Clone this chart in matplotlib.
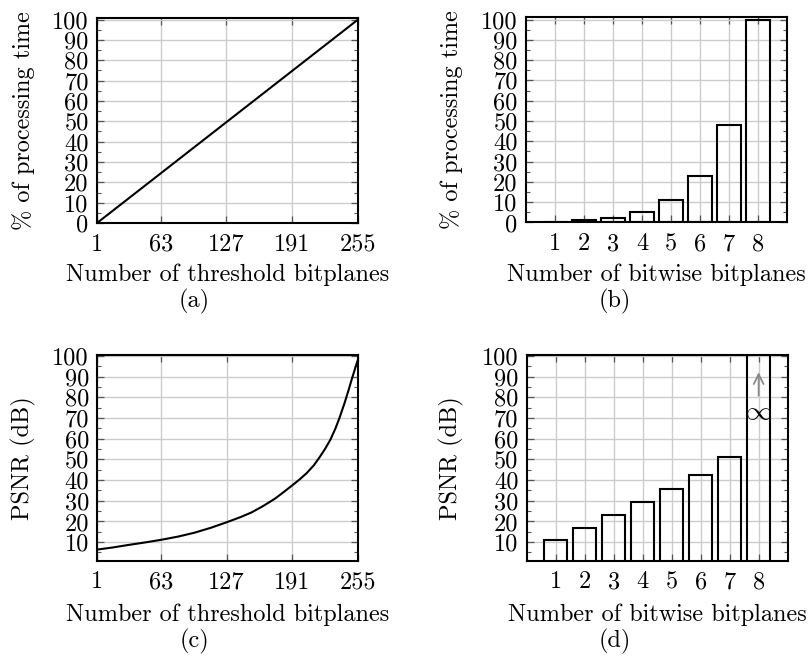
import matplotlib
matplotlib.use('Agg')
import matplotlib.pyplot as plt
import numpy as np

plt.rcParams['font.family'] = 'cmr10'
plt.rcParams['mathtext.fontset'] = 'cm'
plt.rcParams['axes.unicode_minus'] = False
plt.rcParams['font.size'] = 17.5

# (a) processing time vs number of threshold bitplanes
thr_time_x = [1, 255]
thr_time_pct = [0, 100]

# (b) processing time vs number of bitwise bitplanes
bitplanes = [1, 2, 3, 4, 5, 6, 7, 8]
bit_time_pct = [0.4, 1.0, 2.4, 5.2, 11, 23, 48, 100]

# (c) PSNR vs number of threshold bitplanes
thr_psnr_x = [1, 16, 31, 47, 63, 80, 96, 112, 127, 140, 151, 162, 174, 182,
              191, 198, 205, 212, 218, 223, 228, 233, 237, 242, 246, 249, 252, 255]
thr_psnr_db = [6.4, 7.4, 8.6, 9.8, 11.1, 12.7, 14.6, 17.0, 19.6, 22.0, 24.3, 27.3,
               31.0, 34.0, 37.5, 40.3, 43.4, 47.2, 51.4, 55.2, 59.5, 65.0, 70.2,
               77.5, 83.9, 89.0, 93.8, 98.5]

# (d) PSNR vs number of bitwise bitplanes (8 bitplanes -> lossless)
bit_psnr_db = [10.8, 17.0, 23.1, 29.2, 35.6, 42.7, 51.0, np.inf]

thr_ticks = [1, 63, 127, 191, 255]

GRID = '#cccccc'
TICK = '#555555'


def style(ax, ymin, ymax, yticks):
    ax.set_ylim(ymin, ymax)
    ax.set_yticks(yticks)
    ax.set_yticks(np.arange(5, 100, 10), minor=True)
    ax.grid(True, which='major', color=GRID, lw=1.0)
    ax.set_axisbelow(True)
    ax.tick_params(which='both', direction='in', top=True, right=True, color=TICK)
    ax.tick_params(which='major', length=5, width=0.9)
    ax.tick_params(which='minor', length=3, width=0.8)
    ax.tick_params(axis='y', pad=6)
    ax.tick_params(axis='x', pad=7.5)
    ax.tick_params(axis='x', which='minor', bottom=False, top=False)
    for s in ax.spines.values():
        s.set_linewidth(1.5)
        s.set_zorder(5)


fig = plt.figure(figsize=(8.11, 6.62), dpi=100)

ax_a = fig.add_axes([0.1196, 0.6631, 0.3218, 0.3104])
ax_b = fig.add_axes([0.6486, 0.6639, 0.3218, 0.3097])
ax_c = fig.add_axes([0.1200, 0.1530, 0.3215, 0.3107])
ax_d = fig.add_axes([0.6494, 0.1530, 0.3218, 0.3107])

# (a)
ax_a.plot(thr_time_x, thr_time_pct, color='black', lw=1.5)
ax_a.set_xlim(1, 255)
ax_a.set_xticks(thr_ticks)
style(ax_a, 0, 101, np.arange(0, 101, 10))
ax_a.set_xlabel('Number of threshold bitplanes', va='center')
ax_a.set_ylabel('% of processing time', va='center')

# (b)
ax_b.bar(bitplanes, bit_time_pct, width=0.8, facecolor='none', edgecolor='black', lw=1.5)
ax_b.set_xlim(0, 9)
ax_b.set_xticks(bitplanes)
style(ax_b, 0, 101, np.arange(0, 101, 10))
ax_b.set_xlabel('Number of bitwise bitplanes', va='center')
ax_b.set_ylabel('% of processing time', va='center')

# (c)
ax_c.plot(thr_psnr_x, thr_psnr_db, color='black', lw=1.5, solid_joinstyle='round')
ax_c.set_xlim(1, 255)
ax_c.set_xticks(thr_ticks)
style(ax_c, 1, 100.5, np.arange(10, 101, 10))
ax_c.set_xlabel('Number of threshold bitplanes', va='center')
ax_c.set_ylabel('PSNR (dB)', va='center')

# (d)
d_top = 100.5
d_heights = [v if np.isfinite(v) else 2 * d_top for v in bit_psnr_db]
ax_d.bar(bitplanes, d_heights, width=0.8, facecolor='none', edgecolor='black', lw=1.5)
ax_d.set_xlim(0, 9)
ax_d.set_xticks(bitplanes)
style(ax_d, 1, d_top, np.arange(10, 101, 10))
ax_d.set_xlabel('Number of bitwise bitplanes', va='center')
ax_d.set_ylabel('PSNR (dB)', va='center')
for x, v in zip(bitplanes, bit_psnr_db):
    if not np.isfinite(v):
        ax_d.annotate('', xy=(x, 93.5), xytext=(x, 79.5),
                      arrowprops=dict(arrowstyle='->', color='#888888', lw=1.3))
        ax_d.text(x, 72.8, r'$\infty$', ha='center', va='center', fontsize=19)

# label positions
ax_a.xaxis.set_label_coords(0.5, -0.253)
ax_b.xaxis.set_label_coords(0.5, -0.255)
ax_c.xaxis.set_label_coords(0.5, -0.262)
ax_d.xaxis.set_label_coords(0.5, -0.262)
ax_a.yaxis.set_label_coords(-0.280, 0.5)
ax_b.yaxis.set_label_coords(-0.287, 0.5)
ax_c.yaxis.set_label_coords(-0.285, 0.5)
ax_d.yaxis.set_label_coords(-0.287, 0.5)

# sub-captions
for (cx, cy), lab in zip([(194, 301), (615, 301), (194, 641.7), (615, 641.7)],
                         ['(a)', '(b)', '(c)', '(d)']):
    fig.text(cx / 811, 1 - cy / 662, lab, ha='center', va='center')

fig.savefig('out.png', dpi=100)
